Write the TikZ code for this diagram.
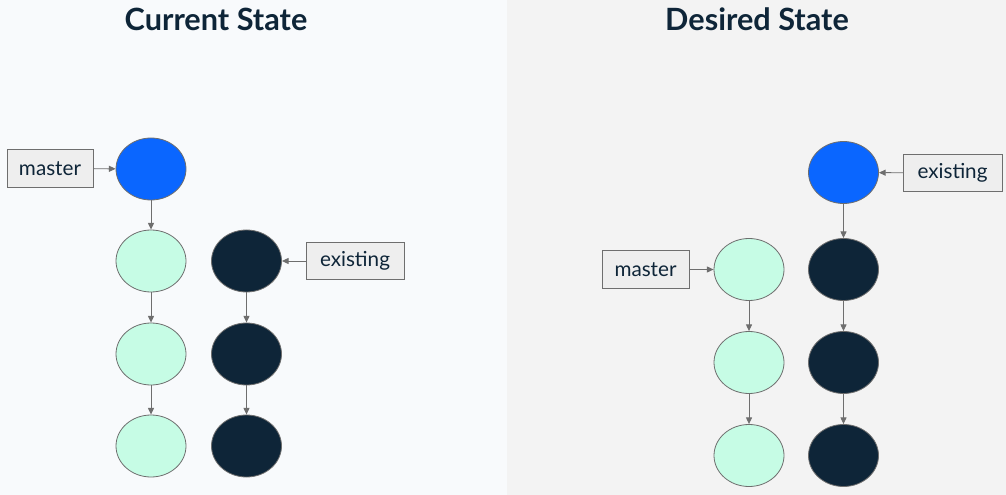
\documentclass[tikz,border=0pt]{standalone}
\usepackage{fontspec}
\setmainfont{Lato}
\usepackage{tikz}
\usetikzlibrary{arrows.meta,shapes.geometric}

\definecolor{leftbg}{HTML}{F8FAFC}
\definecolor{rightbg}{HTML}{F3F3F3}
\definecolor{headblue}{HTML}{0A66FF}
\definecolor{mint}{HTML}{C6FCE5}
\definecolor{navy}{HTML}{0E2538}
\definecolor{edgegray}{HTML}{6E6E6E}
\definecolor{boxfill}{HTML}{EEEEEE}

\tikzset{
	commit/.style={ellipse, draw=edgegray, line width=0.6pt, minimum width=52.5pt, minimum height=46.5pt, inner sep=0pt},
	refbox/.style={draw=edgegray, fill=boxfill, line width=0.5pt, minimum height=28pt, inner sep=0pt, text=navy, font=\fontsize{15.5}{18}\selectfont},
	link/.style={draw=edgegray, line width=0.7pt, -{Triangle[length=5pt,width=4.5pt]}},
	title/.style={text=navy, font=\fontsize{23}{27}\selectfont\bfseries}
}

\begin{document}
\begin{tikzpicture}[x=0.75pt,y=-0.75pt]
	\fill[leftbg] (0,0) rectangle (507,495);
	\fill[rightbg] (507,0) rectangle (1006,495);
	\useasboundingbox (0,0) rectangle (1006,495);

	% current state
	\node[title] (curtitle) at (216,19) {Current State};
	\node[commit, fill=headblue] (c1) at (151,169) {};
	\node[commit, fill=mint] (c2) at (151,261) {};
	\node[commit, fill=mint] (c3) at (151,354) {};
	\node[commit, fill=mint] (c4) at (151,446) {};
	\node[commit, fill=navy] (e1) at (246.5,261) {};
	\node[commit, fill=navy] (e2) at (246.5,354) {};
	\node[commit, fill=navy] (e3) at (246.5,446) {};
	\node[refbox, minimum width=64.5pt] (curmaster) at (50,168.5) {master};
	\node[refbox, minimum width=73.5pt] (curexisting) at (355,261) {existing};
	\draw[link] (c1) -- (c2);
	\draw[link] (c2) -- (c3);
	\draw[link] (c3) -- (c4);
	\draw[link] (e1) -- (e2);
	\draw[link] (e2) -- (e3);
	\draw[link] (curmaster) -- (c1);
	\draw[link] (curexisting) -- (e1);

	% desired state
	\node[title] (destitle) at (757,19) {Desired State};
	\node[commit, fill=headblue] (d1) at (843.5,172.5) {};
	\node[commit, fill=navy] (d2) at (843.5,269.5) {};
	\node[commit, fill=navy] (d3) at (843.5,362.5) {};
	\node[commit, fill=navy] (d4) at (843.5,455.5) {};
	\node[commit, fill=mint] (m1) at (749,269.5) {};
	\node[commit, fill=mint] (m2) at (749,362.5) {};
	\node[commit, fill=mint] (m3) at (749,455.5) {};
	\node[refbox, minimum width=65pt] (desmaster) at (645.5,269.5) {master};
	\node[refbox, minimum width=74pt] (desexisting) at (952.5,173) {existing};
	\draw[link] (d1) -- (d2);
	\draw[link] (d2) -- (d3);
	\draw[link] (d3) -- (d4);
	\draw[link] (m1) -- (m2);
	\draw[link] (m2) -- (m3);
	\draw[link] (desmaster) -- (m1);
	\draw[link] (desexisting) -- (d1);
\end{tikzpicture}
\end{document}
